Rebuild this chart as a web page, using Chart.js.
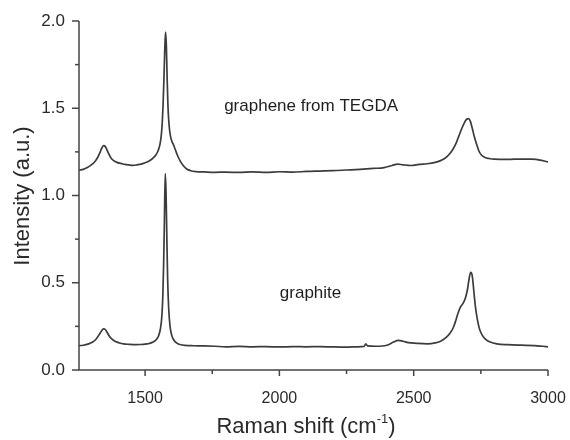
<!DOCTYPE html>
<html>
<head>
<meta charset="utf-8">
<script src="https://cdn.jsdelivr.net/npm/chart.js@4.4.1/dist/chart.umd.min.js"></script>
<style>
  html, body { margin: 0; padding: 0; background: #fff; }
  #wrap { width: 570px; height: 440px; }
</style>
</head>
<body>
<div id="wrap"><canvas id="c" width="570" height="440"></canvas></div>
<script>
// Raman shift (cm^-1) and intensity for "graphene from TEGDA"
const grapheneShift = [1254,1270,1285,1300,1315,1325,1333,1340,1346,1352,1358,1365,1373,1383,1395,1410,1425,1440,1455,1470,1485,1500,1515,1528,1540,1548,1555,1560,1564,1567,1570,1573,1576,1579,1582,1585,1589,1594,1600,1606,1612,1620,1630,1642,1655,1670,1690,1720,1760,1800,1850,1900,1950,2000,2050,2100,2150,2200,2250,2300,2350,2390,2420,2440,2460,2490,2520,2550,2580,2600,2615,2630,2645,2658,2668,2678,2688,2697,2704,2711,2718,2726,2734,2742,2752,2765,2780,2800,2850,2900,2940,2970,2990,3000];
const grapheneIntensity = [1.145,1.150,1.160,1.175,1.198,1.222,1.250,1.275,1.286,1.280,1.262,1.238,1.215,1.200,1.190,1.184,1.178,1.175,1.173,1.176,1.180,1.188,1.198,1.212,1.232,1.255,1.290,1.340,1.420,1.520,1.660,1.820,1.937,1.870,1.680,1.520,1.410,1.345,1.310,1.290,1.265,1.232,1.200,1.172,1.152,1.142,1.137,1.135,1.133,1.134,1.132,1.135,1.133,1.136,1.134,1.138,1.140,1.142,1.146,1.150,1.155,1.160,1.172,1.180,1.176,1.172,1.178,1.182,1.190,1.200,1.212,1.232,1.262,1.300,1.340,1.380,1.415,1.437,1.440,1.425,1.385,1.335,1.295,1.258,1.232,1.218,1.212,1.208,1.207,1.209,1.208,1.203,1.196,1.192];

// Raman shift (cm^-1) and intensity for "graphite"
const graphiteShift = [1254,1270,1290,1305,1318,1328,1337,1345,1352,1360,1368,1378,1390,1405,1420,1440,1460,1480,1500,1515,1530,1542,1550,1557,1562,1566,1569,1572,1575,1578,1581,1584,1588,1593,1599,1607,1617,1630,1650,1680,1720,1760,1800,1850,1900,1950,2000,2050,2100,2150,2200,2250,2290,2315,2322,2328,2360,2400,2425,2442,2460,2480,2510,2550,2580,2600,2620,2635,2648,2658,2666,2674,2683,2692,2700,2706,2712,2718,2724,2730,2737,2745,2755,2768,2785,2810,2850,2900,2950,2980,3000];
const graphiteIntensity = [0.140,0.142,0.150,0.160,0.178,0.200,0.222,0.236,0.232,0.212,0.192,0.175,0.163,0.155,0.150,0.147,0.145,0.146,0.148,0.152,0.160,0.175,0.195,0.235,0.300,0.420,0.600,0.860,1.125,1.020,0.760,0.520,0.350,0.250,0.200,0.172,0.155,0.146,0.141,0.139,0.138,0.136,0.133,0.135,0.133,0.134,0.132,0.134,0.133,0.134,0.132,0.131,0.133,0.135,0.150,0.138,0.136,0.142,0.160,0.170,0.165,0.157,0.153,0.150,0.155,0.165,0.185,0.210,0.245,0.290,0.330,0.360,0.380,0.410,0.460,0.520,0.560,0.540,0.450,0.360,0.290,0.235,0.200,0.175,0.160,0.150,0.145,0.142,0.140,0.136,0.133];

// Axis tick values
const xTickValues = [1500,1750,2000,2250,2500,2750,3000];
const xTickLabels = ['1500','','2000','','2500','','3000'];
const yTickValues = [0,0.25,0.5,0.75,1.0,1.25,1.5,1.75,2.0];
const yTickLabels = ['0.0','','0.5','','1.0','','1.5','','2.0'];

// Text annotations
const seriesNames = ['graphene from TEGDA', 'graphite'];
const annotationShift = [2118, 2116];
const annotationIntensity = [1.484, 0.413];

const axisTitleX = 'Raman shift (cm';
const axisTitleXSup = '-1';
const axisTitleY = 'Intensity (a.u.)';

const INK = '#2a2a2a';
const FONT = '"Liberation Sans", Arial, sans-serif';

function toPoints(xs, ys) { return xs.map((x, i) => ({ x: x, y: ys[i] })); }

const decor = {
  id: 'decor',
  afterDraw(chart) {
    const ctx = chart.ctx;
    const xs = chart.scales.x, ys = chart.scales.y;
    const area = chart.chartArea;
    ctx.save();
    ctx.strokeStyle = '#444';
    ctx.lineWidth = 1.5;
    // axis lines
    ctx.beginPath();
    ctx.moveTo(area.left, area.top);
    ctx.lineTo(area.left, area.bottom);
    ctx.lineTo(area.right, area.bottom);
    ctx.stroke();
    // x ticks
    xTickValues.forEach((v, i) => {
      const px = xs.getPixelForValue(v);
      const len = xTickLabels[i] ? 6 : 4;
      ctx.beginPath();
      ctx.moveTo(px, area.bottom);
      ctx.lineTo(px, area.bottom + len);
      ctx.stroke();
    });
    // y ticks
    yTickValues.forEach((v, i) => {
      const py = ys.getPixelForValue(v);
      const len = yTickLabels[i] ? 7 : 4;
      ctx.beginPath();
      ctx.moveTo(area.left, py);
      ctx.lineTo(area.left - len, py);
      ctx.stroke();
    });
    // annotations
    ctx.fillStyle = '#1e1e1e';
    ctx.font = '17px ' + FONT;
    ctx.textAlign = 'center';
    ctx.textBaseline = 'alphabetic';
    seriesNames.forEach((t, i) => {
      ctx.fillText(t, xs.getPixelForValue(annotationShift[i]), ys.getPixelForValue(annotationIntensity[i]));
    });
    // x title with superscript
    ctx.fillStyle = INK;
    const big = '22px ' + FONT, small = '13px ' + FONT;
    ctx.font = big;
    const mainW = ctx.measureText(axisTitleX).width;
    ctx.font = small;
    const supW = ctx.measureText(axisTitleXSup).width;
    ctx.font = big;
    const closeW = ctx.measureText(')').width;
    const total = mainW + supW + closeW;
    const cx = 306;
    const sx = cx - total / 2;
    const by = 433;
    ctx.textAlign = 'left';
    ctx.fillText(axisTitleX, sx, by);
    ctx.font = small;
    ctx.fillText(axisTitleXSup, sx + mainW, by - 10);
    ctx.font = big;
    ctx.fillText(')', sx + mainW + supW, by);
    // y title
    ctx.save();
    ctx.translate(29, 196);
    ctx.rotate(-Math.PI / 2);
    ctx.textAlign = 'center';
    ctx.fillText(axisTitleY, 0, 0);
    ctx.restore();
    ctx.restore();
  }
};

new Chart(document.getElementById('c'), {
  type: 'line',
  data: {
    datasets: [
      { label: seriesNames[0], data: toPoints(grapheneShift, grapheneIntensity) },
      { label: seriesNames[1], data: toPoints(graphiteShift, graphiteIntensity) }
    ]
  },
  options: {
    responsive: false,
    animation: false,
    devicePixelRatio: 1,
    layout: { padding: { left: 0, top: 21, right: 22, bottom: 0 } },
    elements: {
      point: { radius: 0 },
      line: { borderColor: '#3c3c3c', borderWidth: 1.7, cubicInterpolationMode: 'monotone' }
    },
    plugins: { legend: { display: false }, tooltip: { enabled: false } },
    scales: {
      x: {
        type: 'linear',
        min: 1254, max: 3000,
        grid: { display: false, drawTicks: false, tickLength: 0 },
        border: { display: false },
        afterBuildTicks: s => { s.ticks = xTickValues.map(v => ({ value: v })); },
        afterFit: s => { s.height = 70; s.paddingLeft = 0; s.paddingRight = 0; },
        ticks: {
          autoSkip: false, maxRotation: 0,
          padding: 19,
          color: INK,
          font: { family: FONT, size: 16 },
          callback: (v) => { const i = xTickValues.indexOf(v); return i >= 0 ? xTickLabels[i] : ''; }
        }
      },
      y: {
        type: 'linear',
        min: 0, max: 2.0,
        grid: { display: false, drawTicks: false, tickLength: 0 },
        border: { display: false },
        afterBuildTicks: s => { s.ticks = yTickValues.map(v => ({ value: v })); },
        afterFit: s => { s.width = 79; s.paddingTop = 0; s.paddingBottom = 0; },
        ticks: {
          autoSkip: false,
          padding: 14,
          color: INK,
          font: { family: FONT, size: 17 },
          callback: (v) => { const i = yTickValues.indexOf(v); return i >= 0 ? yTickLabels[i] : ''; }
        }
      }
    }
  },
  plugins: [decor]
});
</script>
</body>
</html>
